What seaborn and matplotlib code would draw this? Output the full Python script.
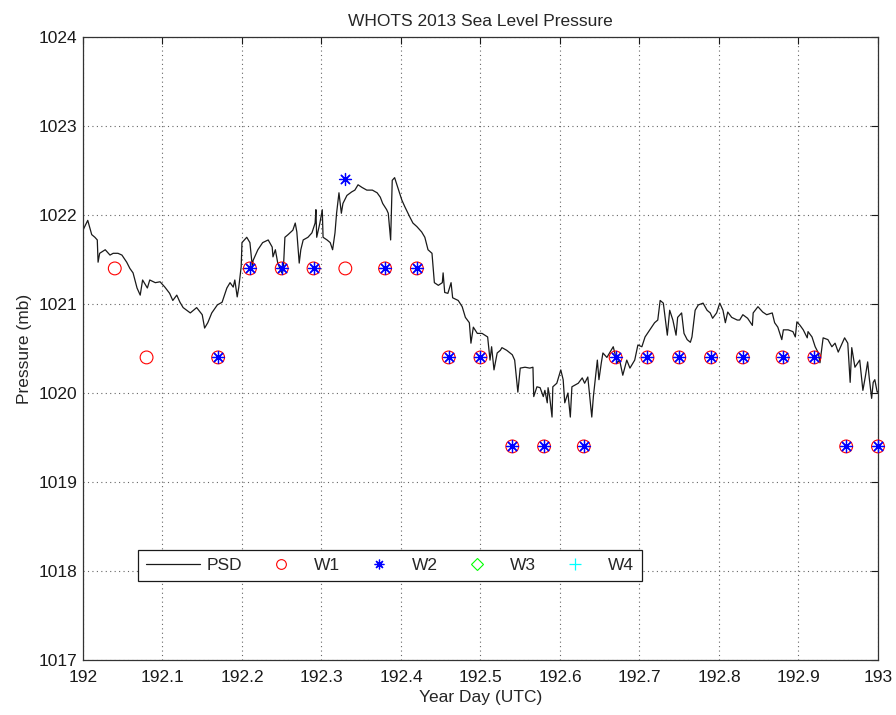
import matplotlib
matplotlib.use("Agg")
import matplotlib.pyplot as plt
from matplotlib.lines import Line2D
from matplotlib.ticker import FormatStrFormatter
import seaborn as sns
import pandas as pd
import numpy as np

# PSD sea level pressure
psd_day = [
    192.000, 192.006, 192.011, 192.015, 192.018, 192.019, 192.021, 192.028, 192.034, 192.038,
    192.044, 192.049, 192.055, 192.059, 192.063, 192.068, 192.072, 192.075, 192.081, 192.084,
    192.091, 192.097, 192.103, 192.109, 192.113, 192.118, 192.122, 192.126, 192.135, 192.143,
    192.150, 192.153, 192.157, 192.162, 192.169, 192.175, 192.181, 192.185, 192.189, 192.191,
    192.194, 192.196, 192.199, 192.200, 192.206, 192.210, 192.213, 192.214, 192.220, 192.226,
    192.233, 192.238, 192.239, 192.242, 192.245, 192.250, 192.252, 192.254, 192.258, 192.264,
    192.267, 192.269, 192.272, 192.274, 192.277, 192.283, 192.288, 192.292, 192.293, 192.294,
    192.298, 192.301, 192.302, 192.307, 192.311, 192.314, 192.317, 192.319, 192.322, 192.325,
    192.327, 192.332, 192.338, 192.342, 192.346, 192.351, 192.357, 192.364, 192.370, 192.374,
    192.377, 192.382, 192.384, 192.387, 192.389, 192.392, 192.396, 192.401, 192.405, 192.411,
    192.415, 192.420, 192.426, 192.430, 192.434, 192.439, 192.442, 192.447, 192.452, 192.453,
    192.455, 192.459, 192.463, 192.465, 192.472, 192.477, 192.481, 192.486, 192.488, 192.491,
    192.496, 192.499, 192.502, 192.509, 192.512, 192.514, 192.517, 192.521, 192.525, 192.527,
    192.533, 192.540, 192.543, 192.547, 192.550, 192.556, 192.562, 192.566, 192.567, 192.571,
    192.575, 192.579, 192.581, 192.584, 192.585, 192.587, 192.590, 192.591, 192.596, 192.601,
    192.604, 192.606, 192.610, 192.613, 192.615, 192.619, 192.623, 192.628, 192.631, 192.635,
    192.640, 192.642, 192.647, 192.649, 192.652, 192.654, 192.659, 192.667, 192.672, 192.675,
    192.679, 192.684, 192.688, 192.694, 192.698, 192.703, 192.707, 192.713, 192.719, 192.723,
    192.726, 192.730, 192.735, 192.738, 192.742, 192.746, 192.748, 192.753, 192.756, 192.760,
    192.764, 192.766, 192.770, 192.774, 192.780, 192.785, 192.789, 192.792, 192.797, 192.801,
    192.805, 192.808, 192.811, 192.816, 192.823, 192.826, 192.830, 192.836, 192.842, 192.843,
    192.849, 192.855, 192.860, 192.867, 192.870, 192.874, 192.879, 192.881, 192.887, 192.893,
    192.896, 192.898, 192.902, 192.906, 192.911, 192.912, 192.917, 192.921, 192.925, 192.927,
    192.931, 192.937, 192.942, 192.946, 192.950, 192.955, 192.958, 192.962, 192.965, 192.967,
    192.971, 192.977, 192.981, 192.984, 192.987, 192.989, 192.992, 192.994, 192.996, 192.999,
    193.000,
]
psd_mb = [
    1021.83, 1021.94, 1021.78, 1021.75, 1021.72, 1021.47, 1021.57, 1021.61, 1021.55, 1021.57,
    1021.57, 1021.55, 1021.47, 1021.40, 1021.35, 1021.18, 1021.10, 1021.27, 1021.18, 1021.27,
    1021.24, 1021.25, 1021.19, 1021.12, 1021.04, 1021.10, 1021.02, 1020.96, 1020.90, 1020.96,
    1020.88, 1020.73, 1020.79, 1020.90, 1020.99, 1021.02, 1021.18, 1021.24, 1021.19, 1021.27,
    1021.08, 1021.19, 1021.42, 1021.69, 1021.75, 1021.69, 1021.42, 1021.49, 1021.61, 1021.69,
    1021.72, 1021.64, 1021.53, 1021.61, 1021.46, 1021.35, 1021.38, 1021.75, 1021.78, 1021.83,
    1021.91, 1021.81, 1021.46, 1021.61, 1021.72, 1021.75, 1021.80, 1021.91, 1022.06, 1021.75,
    1021.91, 1022.06, 1021.75, 1021.72, 1021.69, 1021.61, 1021.80, 1022.02, 1022.25, 1022.02,
    1022.13, 1022.22, 1022.26, 1022.28, 1022.34, 1022.31, 1022.28, 1022.28, 1022.25, 1022.20,
    1022.13, 1022.06, 1022.02, 1021.72, 1022.39, 1022.42, 1022.31, 1022.17, 1022.09, 1021.98,
    1021.91, 1021.87, 1021.81, 1021.75, 1021.61, 1021.57, 1021.24, 1021.21, 1021.24, 1021.35,
    1021.13, 1021.12, 1021.24, 1021.07, 1021.04, 1020.97, 1020.85, 1020.79, 1020.56, 1020.74,
    1020.67, 1020.67, 1020.67, 1020.63, 1020.37, 1020.52, 1020.26, 1020.45, 1020.48, 1020.51,
    1020.48, 1020.43, 1020.37, 1020.01, 1020.28, 1020.29, 1020.28, 1020.29, 1019.96, 1020.07,
    1020.06, 1019.96, 1020.03, 1019.89, 1020.06, 1019.96, 1019.73, 1020.07, 1020.11, 1020.26,
    1020.15, 1019.89, 1020.00, 1019.73, 1020.07, 1020.09, 1020.11, 1020.17, 1020.11, 1020.18,
    1019.73, 1019.96, 1020.37, 1020.15, 1020.34, 1020.45, 1020.40, 1020.52, 1020.34, 1020.37,
    1020.20, 1020.37, 1020.28, 1020.37, 1020.54, 1020.52, 1020.63, 1020.71, 1020.79, 1020.82,
    1021.04, 1021.01, 1020.65, 1020.93, 1020.82, 1020.65, 1020.85, 1020.90, 1020.67, 1020.60,
    1020.57, 1020.63, 1020.93, 1020.99, 1021.01, 1020.93, 1020.90, 1020.84, 1020.90, 1021.01,
    1020.93, 1020.79, 1020.91, 1020.85, 1020.82, 1020.82, 1020.88, 1020.84, 1020.76, 1020.90,
    1020.97, 1020.91, 1020.88, 1020.90, 1020.79, 1020.74, 1020.60, 1020.71, 1020.71, 1020.69,
    1020.63, 1020.80, 1020.76, 1020.71, 1020.62, 1020.69, 1020.63, 1020.52, 1020.45, 1020.34,
    1020.62, 1020.60, 1020.52, 1020.56, 1020.46, 1020.56, 1020.62, 1020.56, 1020.12, 1020.51,
    1020.29, 1020.37, 1020.03, 1020.18, 1020.35, 1020.17, 1019.94, 1020.12, 1020.15, 1020.01,
    1020.01,
]

# buoy sensors (hourly)
w1_day = [192.04, 192.08, 192.17, 192.21, 192.25, 192.29, 192.33, 192.38, 192.42, 192.46,
          192.50, 192.54, 192.58, 192.63, 192.67, 192.71, 192.75, 192.79, 192.83, 192.88,
          192.92, 192.96, 193.00]
w1_mb = [1021.4, 1020.4, 1020.4, 1021.4, 1021.4, 1021.4, 1021.4, 1021.4, 1021.4, 1020.4,
         1020.4, 1019.4, 1019.4, 1019.4, 1020.4, 1020.4, 1020.4, 1020.4, 1020.4, 1020.4,
         1020.4, 1019.4, 1019.4]
w2_day = [192.17, 192.21, 192.25, 192.29, 192.33, 192.38, 192.42, 192.46,
          192.50, 192.54, 192.58, 192.63, 192.67, 192.71, 192.75, 192.79, 192.83, 192.88,
          192.92, 192.96, 193.00]
w2_mb = [1020.4, 1021.4, 1021.4, 1021.4, 1022.4, 1021.4, 1021.4, 1020.4,
         1020.4, 1019.4, 1019.4, 1019.4, 1020.4, 1020.4, 1020.4, 1020.4, 1020.4, 1020.4,
         1020.4, 1019.4, 1019.4]
w3_day, w3_mb = [], []
w4_day, w4_mb = [], []

x_ticks = [192, 192.1, 192.2, 192.3, 192.4, 192.5, 192.6, 192.7, 192.8, 192.9, 193]
y_ticks = [1017, 1018, 1019, 1020, 1021, 1022, 1023, 1024]

# matlab colours
RED, BLUE, GREEN, CYAN = '#ff0000', '#0000ff', '#00ff00', '#00ffff'

sns.set_theme(style="white")
plt.rcParams['font.family'] = ['Liberation Sans', 'DejaVu Sans']
FS = 12.5

fig = plt.figure(figsize=(8.96, 7.15), dpi=100)
ax = fig.add_axes([0.0926, 0.0769, 0.8873, 0.8713])

psd = pd.DataFrame({'day': psd_day, 'mb': psd_mb})
sns.lineplot(data=psd, x='day', y='mb', color='k', linewidth=0.9,
             estimator=None, sort=False, ax=ax)

asterisk = (8, 2, 0)
sns.scatterplot(x=w1_day, y=w1_mb, marker='o', s=85, facecolors='none',
                edgecolor=RED, linewidth=0.8, ax=ax, zorder=3, clip_on=False)
sns.scatterplot(x=w2_day, y=w2_mb, marker=asterisk, s=75, color=BLUE,
                linewidth=0.9, ax=ax, zorder=4, clip_on=False)
if w3_day:
    sns.scatterplot(x=w3_day, y=w3_mb, marker='D', s=50, facecolors='none',
                    edgecolor=GREEN, ax=ax, clip_on=False)
if w4_day:
    sns.scatterplot(x=w4_day, y=w4_mb, marker='+', s=70, color=CYAN, ax=ax,
                    clip_on=False)

ax.set_xlim(192, 193)
ax.set_ylim(1017, 1024)
ax.set_xticks(x_ticks)
ax.set_yticks(y_ticks)
ax.xaxis.set_major_formatter(FormatStrFormatter('%g'))
ax.yaxis.set_major_formatter(FormatStrFormatter('%d'))
ax.grid(True, linestyle=(0, (1, 3)), color='#666666', linewidth=0.8)
ax.tick_params(direction='in', top=True, right=True, length=5, width=0.8,
               labelsize=FS, colors='k')
ax.tick_params(axis='x', pad=7)
ax.tick_params(axis='y', pad=4)
for sp in ax.spines.values():
    sp.set_color('#333333')
    sp.set_linewidth(0.9)

ax.set_title('WHOTS 2013 Sea Level Pressure', fontsize=FS, pad=8)
ax.set_xlabel('Year Day (UTC)', fontsize=FS, labelpad=4)
ax.set_ylabel('Pressure (mb)', fontsize=FS, labelpad=5)

handles = [
    Line2D([], [], color='k', linewidth=0.9),
    Line2D([], [], color=RED, marker='o', linestyle='none', markerfacecolor='none',
           markersize=7, markeredgewidth=0.8),
    Line2D([], [], color=BLUE, marker=asterisk, linestyle='none', markersize=7,
           markeredgewidth=0.9),
    Line2D([], [], color=GREEN, marker='D', linestyle='none', markerfacecolor='none',
           markersize=6, markeredgewidth=0.8),
    Line2D([], [], color=CYAN, marker='+', linestyle='none', markersize=8,
           markeredgewidth=0.9),
]
leg = ax.legend(handles, ['PSD', 'W1', 'W2', 'W3', 'W4'], ncol=5,
                loc='lower left', bbox_to_anchor=(0.069, 0.127),
                borderaxespad=0, fontsize=FS, handlelength=3.15,
                handletextpad=0.35, columnspacing=0.65, borderpad=0.45,
                fancybox=False, framealpha=1, edgecolor='k')
leg.get_frame().set_linewidth(0.9)

fig.savefig('out.png', dpi=100)
